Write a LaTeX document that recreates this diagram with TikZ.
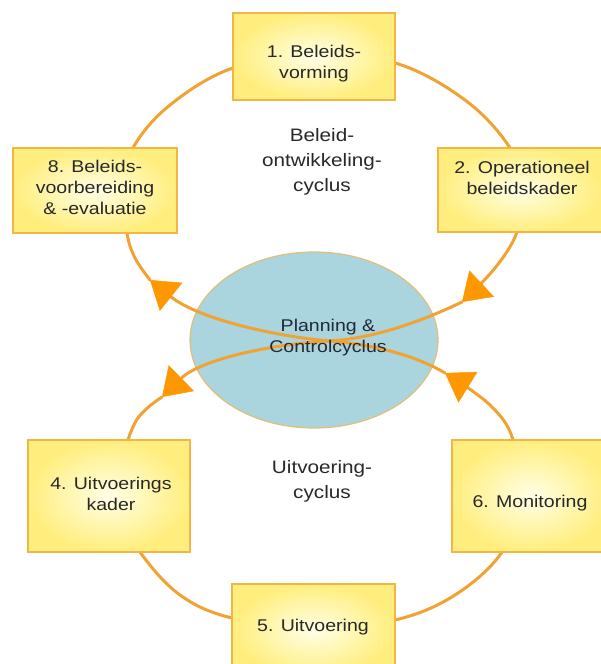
\documentclass[tikz,border=0pt]{standalone}
\usepackage{fontspec}
\setmainfont[FakeStretch=1.15]{Liberation Sans}
\usetikzlibrary{arrows.meta,shapes.geometric}
\definecolor{lineor}{RGB}{240,163,50}
\definecolor{arror}{RGB}{255,152,0}
\definecolor{boxedge}{RGB}{242,182,70}
\definecolor{boxin}{RGB}{255,255,230}
\definecolor{boxout}{RGB}{255,238,125}
\definecolor{pcfill}{RGB}{170,213,222}
\definecolor{pcedge}{RGB}{226,190,120}
\definecolor{txt}{RGB}{40,40,40}
\definecolor{pctxt}{RGB}{35,42,55}
\begin{document}
\begin{tikzpicture}[x=1pt,y=-1pt,
  box/.style={rectangle, draw=boxedge, line width=1.5pt, inner color=boxin, outer color=boxout, inner sep=0pt},
  lbl/.style={align=center, text=txt, font=\fontsize{17}{21}\selectfont, inner sep=0pt},
  cyclbl/.style={align=center, text=txt, font=\fontsize{18}{25}\selectfont, inner sep=0pt},
  cyc/.style={line width=3pt, draw=lineor, line cap=round},
  tipend/.style={-{Triangle[length=27pt,width=36pt,color=arror,fill=arror,line width=0.5pt]}}
]
\useasboundingbox (0,0) rectangle (601,664);
\fill[white] (0,0) rectangle (601,664);

% central ellipse
\node[ellipse, draw=pcedge, line width=1.2pt, fill=pcfill, minimum width=248pt, minimum height=176pt, inner sep=0pt] (pc) at (314,340) {};

% cycle coordinates
\coordinate (ul) at (150,280);
\coordinate (ur) at (462,302);
\coordinate (ll) at (162,397);
\coordinate (lr) at (445,373);
\coordinate (x) at (330,341);

% figure-eight cycle
\draw[cyc,tipend] plot[smooth, tension=0.6] coordinates {(ul) (135,258) (127,233) (124,190) (133,148) (170,105) (233,68) (314,57) (395,63) (465,100) (510,148) (522,190) (517,232) (495,268) (ur)};
\draw[cyc,tipend] (ur) .. controls (420,322) and (375,338) .. (x) .. controls (270,344) and (200,360) .. (ll);
\draw[cyc,tipend] plot[smooth, tension=0.6] coordinates {(ll) (136,421) (120,470) (119,510) (140,552) (180,595) (232,618) (314,628) (395,620) (455,595) (502,552) (518,500) (513,440) (490,405) (lr)};
\draw[cyc,tipend] (lr) .. controls (420,358) and (380,345) .. (x) .. controls (280,337) and (200,320) .. (ul);

% boxes
\node[box, minimum width=162pt, minimum height=87pt] (n1) at (314,56.5) {};
\node[box, minimum width=164pt, minimum height=84pt] (n2) at (520,190) {};
\node[box, minimum width=164pt, minimum height=85pt] (n8) at (95,190.5) {};
\node[box, minimum width=162pt, minimum height=112pt] (n4) at (109,496) {};
\node[box, minimum width=158pt, minimum height=112pt] (n6) at (531,496) {};
\node[box, minimum width=163pt, minimum height=92pt] (n5) at (313.5,630) {};

% texts
\node[lbl] (t1) at (314,64) {1. Beleids-\\vorming};
\node[lbl] (t2) at (522,178) {2. Operationeel\\beleidskader};
\node[lbl] (t8) at (95,187) {8. Beleids-\\voorbereiding\\\& -evaluatie};
\node[lbl] (t4) at (111,494) {4. Uitvoerings\\kader};
\node[lbl] (t6) at (530,503) {6. Monitoring};
\node[lbl] (t5) at (313,627) {5. Uitvoering};
\node[cyclbl] (tb) at (322,162) {Beleid-\\ontwikkeling-\\cyclus};
\node[cyclbl] (tu) at (322,481) {Uitvoering-\\cyclus};
\node[lbl, text=pctxt] (tpc) at (328,338) {Planning \&\\Controlcyclus};
\end{tikzpicture}
\end{document}
